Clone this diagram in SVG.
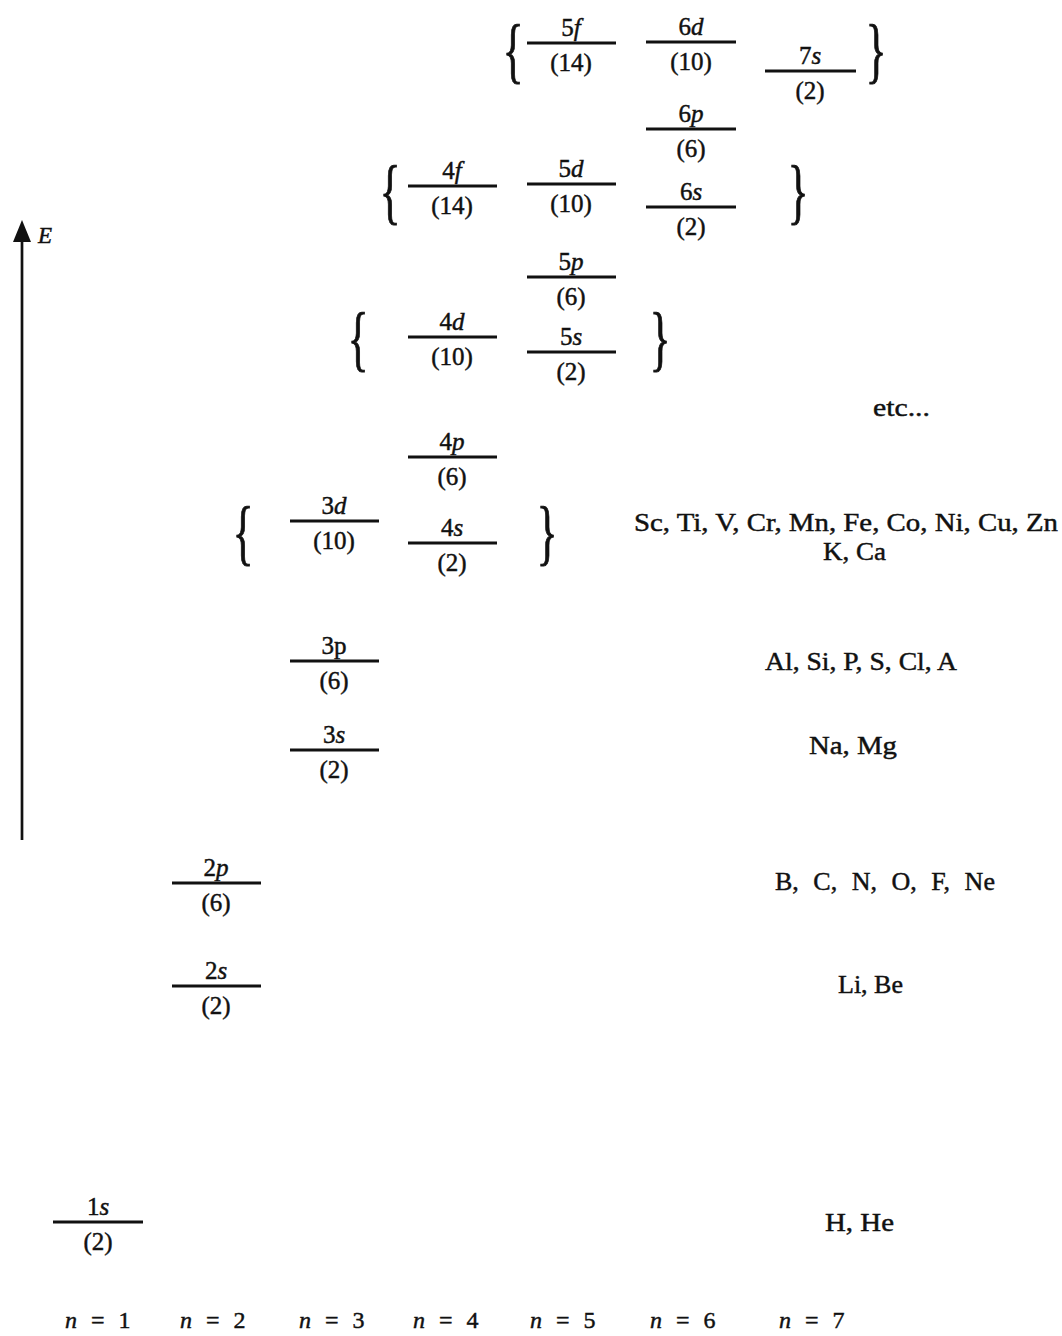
<svg xmlns="http://www.w3.org/2000/svg" width="1062" height="1336" viewBox="0 0 1062 1336">
<style>
text{font-family:"Liberation Serif","Times New Roman",serif;fill:#111;stroke:#111;stroke-width:0.45px}
.lv{stroke:#111;stroke-width:3}
.lab{font-size:25px;text-anchor:middle}
.cnt{font-size:25px;text-anchor:middle}
.el{font-size:26px}
.br{font-size:72px;text-anchor:middle;stroke-width:1px}
.nl{font-size:24px;word-spacing:8px}
.it{font-style:italic}
</style>
<defs>
<marker id="ah" viewBox="0 0 22 18" refX="2" refY="9" markerWidth="22" markerHeight="18" markerUnits="userSpaceOnUse" orient="auto">
<path d="M0,0 L22,9 L0,18 Z" fill="#111"/>
</marker>
</defs>
<rect width="1062" height="1336" fill="#fff"/>
<g id="connectors">
<line x1="22" y1="840" x2="22" y2="240" stroke="#111" stroke-width="2.7" marker-end="url(#ah)"/>
</g>
<text x="38" y="243" font-size="23" class="it">E</text>

<g id="lvl-1s"><line class="lv" x1="53" y1="1222" x2="143" y2="1222"/><text class="lab" x="98" y="1215">1<tspan class="it">s</tspan></text><text class="cnt" x="98" y="1250">(2)</text></g>
<g id="lvl-2s"><line class="lv" x1="172" y1="986" x2="261" y2="986"/><text class="lab" x="216" y="979">2<tspan class="it">s</tspan></text><text class="cnt" x="216" y="1014">(2)</text></g>
<g id="lvl-2p"><line class="lv" x1="172" y1="883" x2="261" y2="883"/><text class="lab" x="216" y="876">2<tspan class="it">p</tspan></text><text class="cnt" x="216" y="911">(6)</text></g>
<g id="lvl-3s"><line class="lv" x1="290" y1="750" x2="379" y2="750"/><text class="lab" x="334" y="743">3<tspan class="it">s</tspan></text><text class="cnt" x="334" y="778">(2)</text></g>
<g id="lvl-3p"><line class="lv" x1="290" y1="661" x2="379" y2="661"/><text class="lab" x="334" y="654">3p</text><text class="cnt" x="334" y="689">(6)</text></g>
<g id="lvl-3d"><line class="lv" x1="290" y1="521" x2="379" y2="521"/><text class="lab" x="334" y="514">3<tspan class="it">d</tspan></text><text class="cnt" x="334" y="549">(10)</text></g>
<g id="lvl-4s"><line class="lv" x1="408" y1="543" x2="497" y2="543"/><text class="lab" x="452" y="536">4<tspan class="it">s</tspan></text><text class="cnt" x="452" y="571">(2)</text></g>
<g id="lvl-4p"><line class="lv" x1="408" y1="457" x2="497" y2="457"/><text class="lab" x="452" y="450">4<tspan class="it">p</tspan></text><text class="cnt" x="452" y="485">(6)</text></g>
<g id="lvl-4d"><line class="lv" x1="408" y1="337" x2="497" y2="337"/><text class="lab" x="452" y="330">4<tspan class="it">d</tspan></text><text class="cnt" x="452" y="365">(10)</text></g>
<g id="lvl-4f"><line class="lv" x1="408" y1="186" x2="497" y2="186"/><text class="lab" x="452" y="179">4<tspan class="it">f</tspan></text><text class="cnt" x="452" y="214">(14)</text></g>
<g id="lvl-5s"><line class="lv" x1="527" y1="352" x2="616" y2="352"/><text class="lab" x="571" y="345">5<tspan class="it">s</tspan></text><text class="cnt" x="571" y="380">(2)</text></g>
<g id="lvl-5p"><line class="lv" x1="527" y1="277" x2="616" y2="277"/><text class="lab" x="571" y="270">5<tspan class="it">p</tspan></text><text class="cnt" x="571" y="305">(6)</text></g>
<g id="lvl-5d"><line class="lv" x1="527" y1="184" x2="616" y2="184"/><text class="lab" x="571" y="177">5<tspan class="it">d</tspan></text><text class="cnt" x="571" y="212">(10)</text></g>
<g id="lvl-5f"><line class="lv" x1="527" y1="43" x2="616" y2="43"/><text class="lab" x="571" y="36">5<tspan class="it">f</tspan></text><text class="cnt" x="571" y="71">(14)</text></g>
<g id="lvl-6s"><line class="lv" x1="646" y1="207" x2="736" y2="207"/><text class="lab" x="691" y="200">6<tspan class="it">s</tspan></text><text class="cnt" x="691" y="235">(2)</text></g>
<g id="lvl-6p"><line class="lv" x1="646" y1="129" x2="736" y2="129"/><text class="lab" x="691" y="122">6<tspan class="it">p</tspan></text><text class="cnt" x="691" y="157">(6)</text></g>
<g id="lvl-6d"><line class="lv" x1="646" y1="42" x2="736" y2="42"/><text class="lab" x="691" y="35">6<tspan class="it">d</tspan></text><text class="cnt" x="691" y="70">(10)</text></g>
<g id="lvl-7s"><line class="lv" x1="765" y1="71" x2="856" y2="71"/><text class="lab" x="810" y="64">7<tspan class="it">s</tspan></text><text class="cnt" x="810" y="99">(2)</text></g>

<g id="braces">
<text class="br" transform="translate(243,556) scale(0.6,1)">{</text>
<text class="br" transform="translate(547,556) scale(0.6,1)">}</text>
<text class="br" transform="translate(358,362) scale(0.6,1)">{</text>
<text class="br" transform="translate(660,362) scale(0.6,1)">}</text>
<text class="br" transform="translate(390,215) scale(0.6,1)">{</text>
<text class="br" transform="translate(798,215) scale(0.6,1)">}</text>
<text class="br" transform="translate(513,74) scale(0.6,1)">{</text>
<text class="br" transform="translate(876,74) scale(0.6,1)">}</text>
</g>

<g id="elements">
<text class="el" x="873" y="416" textLength="57" lengthAdjust="spacingAndGlyphs">etc...</text>
<text class="el" x="634" y="531" textLength="424" lengthAdjust="spacingAndGlyphs">Sc, Ti, V, Cr, Mn, Fe, Co, Ni, Cu, Zn</text>
<text class="el" x="823" y="560" textLength="63" lengthAdjust="spacingAndGlyphs">K, Ca</text>
<text class="el" x="765" y="670" textLength="192" lengthAdjust="spacingAndGlyphs">Al, Si, P, S, Cl, A</text>
<text class="el" x="809" y="754" textLength="88" lengthAdjust="spacingAndGlyphs">Na, Mg</text>
<text class="el" x="775" y="890" word-spacing="8">B, C, N, O, F, Ne</text>
<text class="el" x="838" y="993">Li, Be</text>
<text class="el" x="825" y="1231" textLength="69" lengthAdjust="spacingAndGlyphs">H, He</text>
</g>

<g id="n-labels">
<text class="nl" x="65" y="1328"><tspan class="it">n</tspan> = 1</text>
<text class="nl" x="180" y="1328"><tspan class="it">n</tspan> = 2</text>
<text class="nl" x="299" y="1328"><tspan class="it">n</tspan> = 3</text>
<text class="nl" x="413" y="1328"><tspan class="it">n</tspan> = 4</text>
<text class="nl" x="530" y="1328"><tspan class="it">n</tspan> = 5</text>
<text class="nl" x="650" y="1328"><tspan class="it">n</tspan> = 6</text>
<text class="nl" x="779" y="1328"><tspan class="it">n</tspan> = 7</text>
</g>
</svg>
